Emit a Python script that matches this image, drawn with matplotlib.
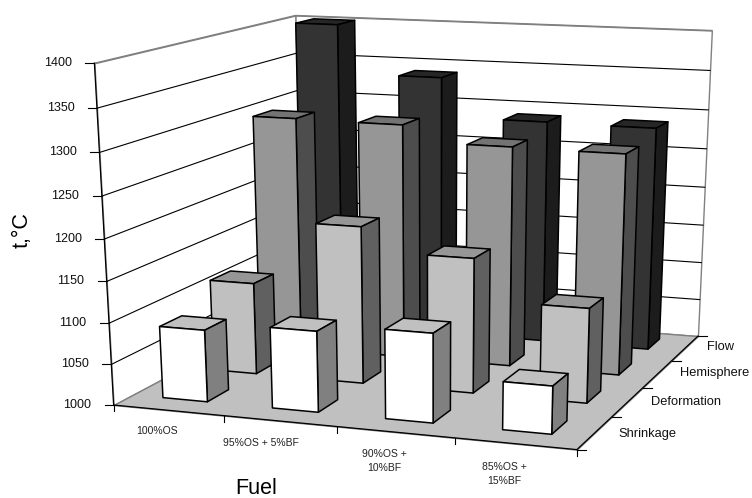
import numpy as np
import matplotlib
matplotlib.use("Agg")
import matplotlib.pyplot as plt
from matplotlib.lines import Line2D
from mpl_toolkits.mplot3d.art3d import Poly3DCollection

fuels = ["100%OS", "95%OS + 5%BF", "90%OS +\n10%BF", "85%OS +\n15%BF"]
stages = ["Shrinkage", "Deformation", "Hemisphere", "Flow"]
shrinkage = [1088, 1098, 1107, 1057]
deformation = [1115, 1195, 1166, 1116]
hemisphere = [1298, 1297, 1277, 1276]
flow = [1400, 1338, 1288, 1287]
z_ticks = list(range(1000, 1401, 50))

series = [shrinkage, deformation, hemisphere, flow]
face_colors = [("#FFFFFF", "#808080", "#C0C0C0"),
               ("#C0C0C0", "#606060", "#969696"),
               ("#969696", "#4D4D4D", "#737373"),
               ("#333333", "#1C1C1C", "#262626")]

W, H = 752, 498
plt.rcParams["font.family"] = ["Liberation Sans", "DejaVu Sans"]
fig = plt.figure(figsize=(W / 100, H / 100), dpi=100)
ax = fig.add_axes([0, 0, 1, 1], projection="3d")
ax.set_axis_off()
ax.set_proj_type("ortho")
ax.computed_zorder = False

# camera fitted to the chart box corners: (x, depth, temp) -> pixel
corners = [((0, 0, 1000), (113.3, 403.3)), ((0, 0, 1400), (94.3, 64.0)),
           ((0, 4, 1400), (295.7, 14.7)), ((4, 4, 1400), (711.7, 30.7)),
           ((4, 4, 1000), (697.7, 335.0)), ((4, 0, 1000), (577.3, 450.7)),
           ((0, 4, 1000), (302.2, 306.5))]
T = np.array([[1, 0, 0, 0], [0, 1, 0, 0], [0, 0, 1 / 400, -2.5], [0, 0, 0, 1.0]])
rows = []
for (p, q) in corners:
    v = T @ np.array([*p, 1.0])
    rows.append([*v, 0, 0, 0, 0, *(-q[0] * v)])
    rows.append([0, 0, 0, 0, *v, *(-q[1] * v)])
P = np.linalg.svd(np.array(rows))[2][-1].reshape(3, 4) @ T
P = P / P[2, 3]
M = np.vstack([P[0], P[1], [0, 1, 0, 0], P[2]])
ax.get_proj = lambda: M
ax.apply_aspect = lambda position=None: None
ax.viewLim.intervalx = (0, W)
ax.viewLim.intervaly = (H, 0)


def pix(x, y, z):
    v = P @ np.array([x, y, z, 1.0])
    return v[0] / v[2], v[1] / v[2]


def seg(x0, y0, x1, y1, **kw):
    fig.add_artist(Line2D([x0 / W, x1 / W], [1 - y0 / H, 1 - y1 / H],
                          transform=fig.transFigure, **kw))


def label(x, y, s, **kw):
    fig.text(x / W, 1 - y / H, s, va="center", **kw)


zmin, zmax = z_ticks[0], z_ticks[-1]
nx, ny = len(fuels), len(stages)
walls = [
    ([[(0, 0, zmin), (0, ny, zmin), (0, ny, zmax), (0, 0, zmax)]], "#FFFFFF", "#808080"),
    ([[(0, ny, zmin), (nx, ny, zmin), (nx, ny, zmax), (0, ny, zmax)]], "#FFFFFF", "#808080"),
    ([[(0, 0, zmin), (nx, 0, zmin), (nx, ny, zmin), (0, ny, zmin)]], "#C0C0C0", "#808080"),
]
for i, (v, fc, ec) in enumerate(walls):
    ax.add_collection3d(Poly3DCollection(v, facecolors=fc, edgecolors=ec, linewidths=1.0,
                                         zorder=1 + i * 0.01))
for t in z_ticks[1:]:
    col = "#808080" if t == zmax else "black"
    ax.plot([0, 0, nx], [0, ny, ny], [t, t, t], color=col, lw=0.8 if t != zmax else 1.0, zorder=2)

LW = 1.1
ax.plot([0, 0], [0, 0], [zmin, zmax], color="black", lw=0.9, zorder=3)
ax.plot([0, nx, nx], [0, 0, ny], [zmin, zmin, zmin], color="black", lw=0.9, zorder=3)

bar_x, bar_w = 0.28, 0.41
bar_y, bar_d = 0.35, 0.42
zo = 10
for j in range(ny - 1, -1, -1):
    front, side, top = face_colors[j]
    for i in range(nx):
        v = series[j][i]
        x0, x1 = i + bar_x, i + bar_x + bar_w
        y0, y1 = j + bar_y, j + bar_y + bar_d
        faces = [[(x1, y0, zmin), (x1, y1, zmin), (x1, y1, v), (x1, y0, v)],
                 [(x0, y0, v), (x1, y0, v), (x1, y1, v), (x0, y1, v)],
                 [(x0, y0, zmin), (x1, y0, zmin), (x1, y0, v), (x0, y0, v)]]
        ax.add_collection3d(Poly3DCollection(faces, facecolors=[side, top, front],
                                             edgecolors="black", linewidths=LW,
                                             zsort="average", zorder=zo))
        zo += 1

for t in z_ticks:
    px, py = pix(0, 0, t)
    seg(px - 9, py, px, py, color="black", lw=0.8)
    label(px - 22.5, py - 0.5, str(t), ha="right", fontsize=9, color="#111111")

for i in range(nx + 1):
    px, py = pix(i, 0, zmin)
    seg(px, py, px, py + 6, color="black", lw=0.8)
for j in range(ny + 1):
    px, py = pix(nx, j, zmin)
    seg(px, py, px + 9, py, color="black", lw=0.8)

cat_pos = [(157, 431), (261, 443), (384, 461), (504, 474)]
for (x, y), s in zip(cat_pos, fuels):
    label(x, y, s, ha="center", fontsize=7.5, color="#222222", linespacing=1.5)
ser_pos = [(618, 434), (651, 402), (680, 373), (707, 347)]
for (x, y), s in zip(ser_pos, stages):
    label(x, y, s, ha="left", fontsize=9.3, color="#111111")
label(256, 488, "Fuel", ha="center", fontsize=15.5)
label(22, 230, "t,°C", ha="center", fontsize=15.5, rotation=90)

fig.savefig("out.png", dpi=100, facecolor="white")
